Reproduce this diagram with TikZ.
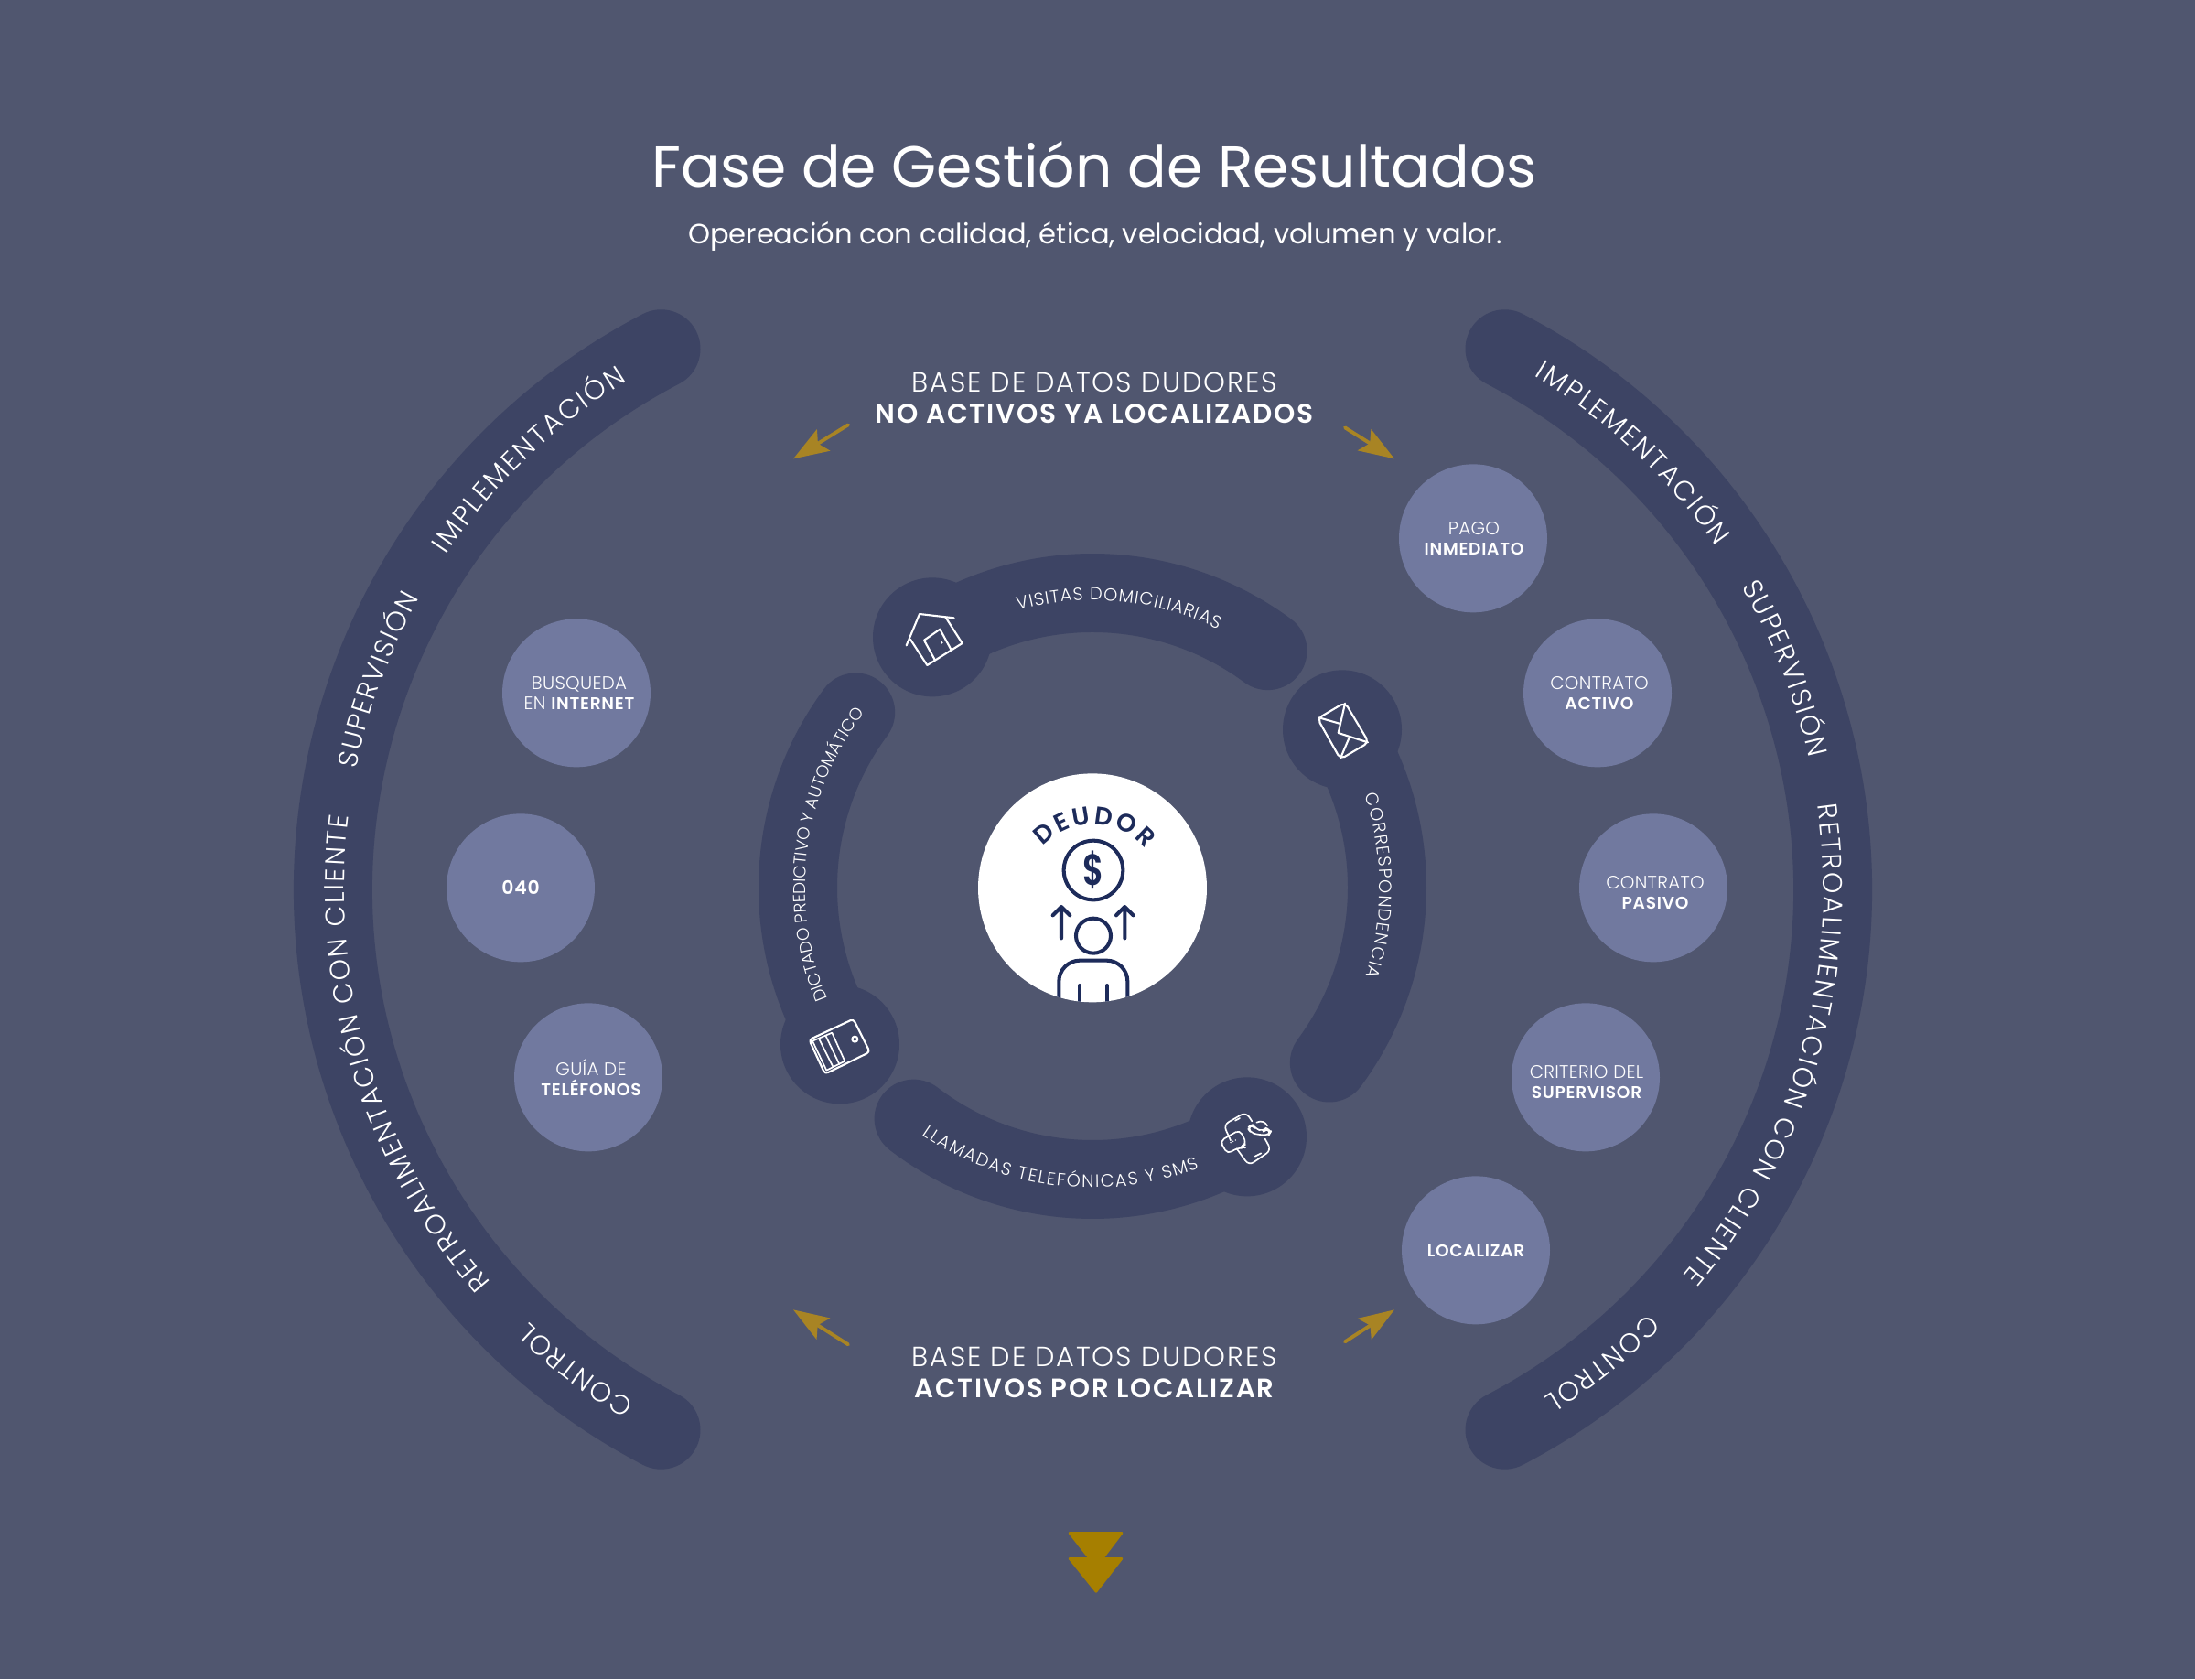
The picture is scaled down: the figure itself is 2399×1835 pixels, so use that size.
\documentclass[tikz,border=0pt]{standalone}
\usepackage{fontspec}
\usepackage{graphicx}
\usetikzlibrary{arrows.meta,decorations.text,calc}
\setmainfont{Poppins}[UprightFont=* Light,BoldFont=* SemiBold]
\newfontfamily\regf{Poppins}
\definecolor{bgc}{HTML}{50566F}
\definecolor{bandc}{HTML}{3D4464}
\definecolor{circc}{HTML}{71799F}
\definecolor{goldc}{HTML}{A88424}
\definecolor{chevc}{HTML}{A67F00}
\definecolor{navyc}{HTML}{1D2B5A}
\newcommand{\arcband}[5]{\draw[bandline] (#1,1835-#2) ++(#3:#5) arc[start angle=#3,end angle=#4,radius=#5];}
\newcommand{\bandtext}[7]{\path[decorate,decoration={text along path,text align={fit to path},text={|#6|#7}}] (#1,1835-#2) ++(#4:#3) arc[start angle=#4,end angle=#5,radius=#3];}
\newcommand{\fOuter}{\color{white}\fontsize{17}{17}\selectfont}
\newcommand{\fInner}{\color{white}\fontsize{11}{11}\selectfont}
\newcommand{\fDict}{\color{white}\fontsize{10.6}{10.6}\selectfont}
\newcommand{\fCall}{\color{white}\fontsize{11}{11}\selectfont}
\newcommand{\fDeu}{\color{navyc}\bfseries\fontsize{15.6}{15.6}\selectfont}
\newcommand{\lb}[1]{{\bfseries\fontsize{10.6}{12.2}\selectfont\addfontfeatures{LetterSpace=4}#1}}
\newcommand{\tracked}[1]{{\addfontfeatures{LetterSpace=6}#1}}
\tikzset{
  bandline/.style={draw=bandc,line width=1.72cm,line cap=round},
  blob/.style={circle,fill=bandc,minimum size=2.6cm,inner sep=0pt},
  pill/.style={circle,fill=circc,minimum size=3.24cm,inner sep=0pt},
  pilltext/.style={text=white,align=center,inner sep=0pt,font=\fontsize{11.3}{12.2}\selectfont\addfontfeatures{LetterSpace=1.5}},
  heading/.style={text=white,align=center,inner sep=0pt},
  goldarrow/.style={draw=goldc,line width=2.2pt,line cap=round,-{Stealth[length=22pt,width=15.5pt,inset=4pt,fill=goldc]}},
  iconline/.style={draw=white,line width=1.2pt,line join=round,line cap=round},
  thinicon/.style={draw=white,line width=0.95pt,line join=round,line cap=round},
  navyline/.style={draw=navyc,line width=2.3pt,line join=round,line cap=round},
  chev/.style={fill=chevc,draw=chevc,line width=1.5pt,line join=round},
  zoomframe/.style={shift={#1},x=0.0066667cm,y=-0.0066667cm},
}
\begin{document}
\begin{tikzpicture}[x=0.02cm,y=0.02cm]
\useasboundingbox (0,0) rectangle (2399,1835);
\fill[bgc] (0,0) rectangle (2399,1835);
% outer bands
\arcband{1030}{972}{117.5}{242.5}{666}
\arcband{1337}{972}{62.5}{-62.5}{666}
% inner ring
\arcband{1194}{970}{123}{53.5}{322}
\arcband{1194}{970}{32}{-36.5}{322}
\arcband{1194}{968}{-58}{-127.5}{321}
\arcband{1194}{970}{143.5}{212}{322}
% ring blobs
\begin{scope}[y=-0.02cm,yshift=36.7cm]
\node[blob] (bhouse) at (1019,696) {};
\node[blob] (bmail) at (1467,797) {};
\node[blob] (bphone) at (1363,1242) {};
\node[blob] (bserver) at (918,1141) {};
\end{scope}
% outer texts (left)
\bandtext{1030}{972}{654}{221}{173}{\fOuter}{RETROALIMENTACIÓN CON CLIENTE}
\bandtext{1030}{972}{654}{168.4}{150.9}{\fOuter}{SUPERVISIÓN}
\bandtext{1030}{972}{654}{146}{121.8}{\fOuter}{IMPLEMENTACIÓN}
\bandtext{1030}{972}{654}{239}{226.3}{\fOuter}{CONTROL}
% outer texts (right)
\bandtext{1337}{972}{656}{58.8}{34.8}{\fOuter}{IMPLEMENTACIÓN}
\bandtext{1337}{972}{656}{30.3}{12.6}{\fOuter}{SUPERVISIÓN}
\bandtext{1337}{972}{656}{8.1}{-40}{\fOuter}{RETROALIMENTACIÓN CON CLIENTE}
\bandtext{1337}{972}{656}{-44.9}{-57.8}{\fOuter}{CONTROL}
% inner texts
\bandtext{1194}{970}{314}{105}{64}{\fInner}{VISITAS DOMICILIARIAS}
\bandtext{1194}{970}{314}{18.8}{-18}{\fInner}{CORRESPONDENCIA}
\bandtext{1194}{968}{330}{235.6}{290.8}{\fCall}{LLAMADAS TELEFÓNICAS Y SMS}
\bandtext{1194}{970}{314}{202.8}{142.6}{\fDict}{DICTADO PREDICTIVO Y AUTOMÁTICO}
\begin{scope}[y=-0.02cm,yshift=36.7cm]
% house
\begin{scope}[zoomframe={(970,650)}]
\draw[iconline] (62,165) -- (105,62) -- (218,75);
\draw[iconline] (75,145) -- (130,230) -- (245,158) -- (190,72);
\draw[iconline] (155,212) -- (120,148) -- (172,112) -- (208,178);
\fill[white] (178,156) circle (4);
\end{scope}
% envelope
\begin{scope}[zoomframe={(1420,750)}]
\draw[iconline,rounded corners=3pt] (60,105) -- (150,52) -- (228,183) -- (135,238) -- cycle;
\draw[iconline] (65,102) -- (135,122);
\draw[iconline] (150,55) -- (128,152) -- (225,183);
\draw[iconline] (135,235) -- (165,165);
\end{scope}
% phone
\begin{scope}[zoomframe={(1310,1195)}]
\draw[thinicon,rounded corners=3.5pt] (105,153) -- (82,102) -- (155,60) -- (175,90);
\draw[thinicon,rounded corners=3.5pt] (218,148) -- (238,185) -- (165,235) -- (125,180);
\draw[thinicon] (120,88) -- (135,80) (185,205) -- (205,195);
\draw[thinicon,rounded corners=3pt] (70,155) -- (135,118) -- (158,165) -- (138,172) -- (155,178) -- (125,178) -- (95,198) -- cycle;
\fill[white] (105,160) circle (2.4) (113,156) circle (2.4) (121,152) circle (2.4);
\draw[thinicon,rounded corners=3pt] (160,112) -- (176,100) -- (186,114) -- (212,124) -- (222,112) -- (237,124) -- (230,136) -- (195,134) -- (172,128) -- cycle;
\draw[thinicon] (190,94) .. controls (205,86) and (220,93) .. (225,105);
\end{scope}
% server
\begin{scope}[zoomframe={(840,1060)}]
\draw[iconline,rounded corners=2pt] (133,228) -- (278,160) -- (332,268) -- (185,340) -- cycle;
\draw[thinicon] (144,232) -- (208,205) -- (250,298) -- (190,328) -- cycle;
\draw[thinicon] (165,224) -- (212,318) (187,214) -- (232,308);
\draw[iconline] (283,226) circle (9);
\end{scope}
% titles
\node[heading,font=\regf\fontsize{40}{40}\selectfont] (title) at (1196,180) {\resizebox{19.34cm}{!}{Fase de Gestión de Resultados}};
\node[heading,font=\regf\fontsize{18}{18}\selectfont] (sub) at (1197,258) {\resizebox{17.8cm}{!}{Opereación con calidad, ética, velocidad, volumen y valor.}};
\node[heading,font=\fontsize{16}{16}\selectfont] (h1a) at (1196,418) {\resizebox{7.98cm}{!}{\tracked{BASE DE DATOS DUDORES}}};
\node[heading,font=\bfseries\fontsize{16}{16}\selectfont] (h1b) at (1196,452) {\resizebox{9.58cm}{!}{\tracked{NO ACTIVOS YA LOCALIZADOS}}};
\node[heading,font=\fontsize{16}{16}\selectfont] (h2a) at (1196,1483) {\resizebox{7.98cm}{!}{\tracked{BASE DE DATOS DUDORES}}};
\node[heading,font=\bfseries\fontsize{16}{16}\selectfont] (h2b) at (1196,1517) {\resizebox{7.86cm}{!}{\tracked{ACTIVOS POR LOCALIZAR}}};
% gold arrows
\coordinate (a1s) at (927,464); \coordinate (a1e) at (867,501);
\coordinate (a2s) at (1470,467); \coordinate (a2e) at (1524,501);
\coordinate (a3s) at (927,1469); \coordinate (a3e) at (867,1431);
\coordinate (a4s) at (1470,1466); \coordinate (a4e) at (1524,1431);
\draw[goldarrow] (a1s) -- (a1e);
\draw[goldarrow] (a2s) -- (a2e);
\draw[goldarrow] (a3s) -- (a3e);
\draw[goldarrow] (a4s) -- (a4e);
% circles
\node[pill] (pago) at (1610,588) {};
\node[pill] (activo) at (1746,757) {};
\node[pill] (pasivo) at (1807,970) {};
\node[pill] (criterio) at (1733,1177) {};
\node[pill] (localizar) at (1613,1366) {};
\node[pill] (busqueda) at (630,757) {};
\node[pill] (n040) at (569,970) {};
\node[pill] (guia) at (643,1177) {};
\node[pilltext] (pagot) at ($(pago)+(1,0)$) {PAGO\\\lb{INMEDIATO}};
\node[pilltext] (activot) at ($(activo)+(2,0)$) {CONTRATO\\\lb{ACTIVO}};
\node[pilltext] (pasivot) at ($(pasivo)+(2,5)$) {CONTRATO\\\lb{PASIVO}};
\node[pilltext] (criteriot) at ($(criterio)+(1,5)$) {CRITERIO DEL\\\lb{SUPERVISOR}};
\node[pilltext] (localizart) at ($(localizar)+(0,1)$) {\lb{LOCALIZAR}};
\node[pilltext] (busquedat) at ($(busqueda)+(3,0)$) {BUSQUEDA\\EN \lb{INTERNET}};
\node[pilltext] (n040t) at ($(n040)+(0,0)$) {{\bfseries\fontsize{11.6}{12.2}\selectfont\addfontfeatures{LetterSpace=4}040}};
\node[pilltext] (guiat) at ($(guia)+(3,0)$) {GUÍA DE\\\lb{TELÉFONOS}};
% chevrons
\fill[chev] (1169,1675) -- (1226,1675) -- (1198,1712) -- cycle;
\fill[chev] (1169,1703) -- (1226,1703) -- (1198,1739) -- cycle;
% centre
\node[circle,fill=white,minimum size=5cm,inner sep=0pt] (deudor) at (1194,970) {};
\begin{scope}
\clip (1194,970) circle (125);
\begin{scope}[zoomframe={(1000,780)}]
\draw[navyline] (585,512) circle (97);
\node[text=navyc,font=\bfseries\fontsize{23}{23}\selectfont,inner sep=0pt] (dollar) at (585,512) {\scalebox{0.88}[1.18]{\$}};
\draw[navyline] (585,727) circle (57);
\draw[navyline] (480,735) -- (480,632) (452,660) -- (480,632) -- (508,660);
\draw[navyline] (688,735) -- (688,632) (660,660) -- (688,632) -- (716,660);
\draw[navyline,rounded corners=13pt] (472,990) -- (472,808) -- (697,808) -- (697,990);
\draw[navyline] (540,890) -- (540,960) (630,890) -- (630,960);
\end{scope}
\end{scope}
\end{scope}
\bandtext{1195}{975}{74}{138}{40}{\fDeu}{DEUDOR}
\end{tikzpicture}
\end{document}
